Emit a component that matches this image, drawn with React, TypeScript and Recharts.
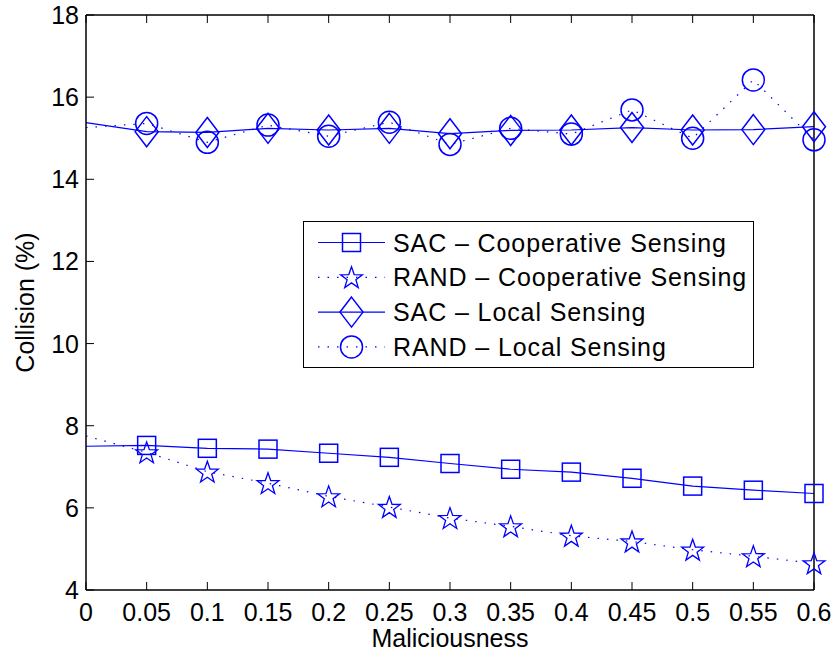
import React from 'react';
import { LineChart, Line, XAxis, YAxis } from 'recharts';

const maliciousness = [0, 0.05, 0.1, 0.15, 0.2, 0.25, 0.3, 0.35, 0.4, 0.45, 0.5, 0.55, 0.6];
const sacCoop = [7.5, 7.52, 7.45, 7.43, 7.33, 7.23, 7.08, 6.94, 6.87, 6.72, 6.53, 6.43, 6.35];
const randCoop = [7.75, 7.35, 6.88, 6.6, 6.28, 6.02, 5.75, 5.55, 5.32, 5.18, 4.98, 4.82, 4.65];
const sacLocal = [15.38, 15.16, 15.14, 15.24, 15.2, 15.24, 15.11, 15.19, 15.2, 15.26, 15.2, 15.21, 15.28];
const randLocal = [15.26, 15.36, 14.9, 15.32, 15.05, 15.39, 14.85, 15.24, 15.1, 15.69, 15.0, 16.42, 14.96];

const xTicks = [0, 0.05, 0.1, 0.15, 0.2, 0.25, 0.3, 0.35, 0.4, 0.45, 0.5, 0.55, 0.6];
const yTicks = [4, 6, 8, 10, 12, 14, 16, 18];

const seriesNames = [
  'SAC \u2013 Cooperative Sensing',
  'RAND \u2013 Cooperative Sensing',
  'SAC \u2013 Local Sensing',
  'RAND \u2013 Local Sensing',
];

const data = maliciousness.map((m, i) => ({
  m,
  sacCoop: sacCoop[i],
  randCoop: randCoop[i],
  sacLocal: sacLocal[i],
  randLocal: randLocal[i],
}));

const BLUE = '#0000ff';
const FONT = '"Liberation Sans", Arial, Helvetica, sans-serif';
const TICK_LEN = 8;

type Shape = 'square' | 'star' | 'diamond' | 'circle';

function Marker({ shape, cx, cy }: { shape: Shape; cx: number; cy: number }) {
  const common = { fill: 'none', stroke: BLUE, strokeWidth: 1.5 };
  if (shape === 'square') {
    return <rect x={cx - 9} y={cy - 9} width={18} height={18} {...common} />;
  }
  if (shape === 'diamond') {
    return <polygon points={`${cx},${cy - 15} ${cx + 11.5},${cy} ${cx},${cy + 15} ${cx - 11.5},${cy}`} {...common} />;
  }
  if (shape === 'circle') {
    return <circle cx={cx} cy={cy} r={11} {...common} />;
  }
  const pts: string[] = [];
  for (let k = 0; k < 10; k++) {
    const r = k % 2 === 0 ? 11.5 : 4.6;
    const a = -Math.PI / 2 + (k * Math.PI) / 5;
    pts.push(`${(cx + r * Math.cos(a)).toFixed(2)},${(cy + r * Math.sin(a) + 1).toFixed(2)}`);
  }
  return <polygon points={pts.join(' ')} {...common} strokeWidth={1.3} />;
}

// first point (x = 0) has no marker in the original figure
const dotFor = (shape: Shape) => (props: any) => {
  const { cx, cy, index } = props;
  if (index === 0 || cx == null || cy == null) return <g key={`d-${shape}-${index}`} />;
  return (
    <g key={`d-${shape}-${index}`}>
      <Marker shape={shape} cx={cx} cy={cy} />
    </g>
  );
};

function BottomTick(props: any) {
  const { x, y, payload } = props;
  return (
    <g>
      <line x1={x} x2={x} y1={y} y2={y - TICK_LEN} stroke="#000" strokeWidth={1} />
      <text x={x} y={y + 31} textAnchor="middle" fontSize={25} fontFamily={FONT} fill="#000">
        {String(payload.value)}
      </text>
    </g>
  );
}

function TopTick(props: any) {
  const { x, y } = props;
  return <line x1={x} x2={x} y1={y} y2={y + TICK_LEN} stroke="#000" strokeWidth={1} />;
}

function LeftTick(props: any) {
  const { x, y, payload } = props;
  return (
    <g>
      <line x1={x} x2={x + TICK_LEN} y1={y} y2={y} stroke="#000" strokeWidth={1} />
      <text x={x - 7} y={y + 9} textAnchor="end" fontSize={25} fontFamily={FONT} fill="#000">
        {String(payload.value)}
      </text>
    </g>
  );
}

function RightTick(props: any) {
  const { x, y } = props;
  return <line x1={x} x2={x - TICK_LEN} y1={y} y2={y} stroke="#000" strokeWidth={1} />;
}

const legendRows: { name: string; shape: Shape; dotted: boolean }[] = [
  { name: seriesNames[0], shape: 'square', dotted: false },
  { name: seriesNames[1], shape: 'star', dotted: true },
  { name: seriesNames[2], shape: 'diamond', dotted: false },
  { name: seriesNames[3], shape: 'circle', dotted: true },
];

function LegendBox() {
  return (
    <div style={{ position: 'absolute', left: 303, top: 221, width: 451, height: 147 }}>
      <svg width={451} height={147}>
        <rect x={0.5} y={0.5} width={450} height={146} fill="#fff" stroke="#000" strokeWidth={1} />
        {legendRows.map((r, i) => {
          const cy = 21.5 + i * 34.8;
          return (
            <g key={r.name}>
              <line
                x1={15}
                x2={82}
                y1={cy}
                y2={cy}
                stroke={BLUE}
                strokeWidth={1.2}
                strokeDasharray={r.dotted ? '1.5 8' : undefined}
              />
              <Marker shape={r.shape} cx={48.5} cy={cy} />
              <text x={90} y={cy + 9} fontSize={25} letterSpacing={0.9} fontFamily={FONT} fill="#000">
                {r.name}
              </text>
            </g>
          );
        })}
      </svg>
    </div>
  );
}

export default function App() {
  return (
    <div style={{ position: 'absolute', left: 0, top: 0, width: 839, height: 660, background: '#fff' }}>
      <LineChart width={839} height={660} data={data} margin={{ top: 14, right: 24, bottom: 69, left: 85 }}>
        <XAxis
          xAxisId="b"
          dataKey="m"
          type="number"
          domain={[0, 0.6]}
          ticks={xTicks}
          interval={0}
          height={1}
          tickSize={0}
          tickMargin={0}
          tickLine={false}
          tick={<BottomTick />}
          axisLine={{ stroke: '#000', strokeWidth: 1.5 }}
          label={{
            content: (p: any) => {
              const vb = p.viewBox || {};
              return (
                <text x={vb.x + vb.width / 2} y={vb.y + 57} textAnchor="middle" fontSize={25} fontFamily={FONT} fill="#000">
                  Maliciousness
                </text>
              );
            },
          }}
        />
        <XAxis
          xAxisId="t"
          orientation="top"
          dataKey="m"
          type="number"
          domain={[0, 0.6]}
          ticks={xTicks}
          interval={0}
          height={1}
          tickSize={0}
          tickMargin={0}
          tickLine={false}
          tick={<TopTick />}
          axisLine={{ stroke: '#000', strokeWidth: 1.5 }}
        />
        <YAxis
          yAxisId="l"
          type="number"
          domain={[4, 18]}
          ticks={yTicks}
          interval={0}
          width={1}
          tickSize={0}
          tickMargin={0}
          tickLine={false}
          tick={<LeftTick />}
          axisLine={{ stroke: '#000', strokeWidth: 1.5 }}
          label={{
            content: (p: any) => {
              const vb = p.viewBox || {};
              const cx = vb.x + vb.width - 61;
              const cy = vb.y + vb.height / 2;
              return (
                <text
                  x={cx}
                  y={cy}
                  transform={`rotate(-90 ${cx} ${cy})`}
                  textAnchor="middle"
                  dominantBaseline="central"
                  fontSize={25}
                  fontFamily={FONT}
                  fill="#000"
                >
                  Collision (%)
                </text>
              );
            },
          }}
        />
        <YAxis
          yAxisId="r"
          orientation="right"
          type="number"
          domain={[4, 18]}
          ticks={yTicks}
          interval={0}
          width={1}
          tickSize={0}
          tickMargin={0}
          tickLine={false}
          tick={<RightTick />}
          axisLine={{ stroke: '#000', strokeWidth: 1.5 }}
        />
        <Line
          xAxisId="b"
          yAxisId="l"
          dataKey="sacCoop"
          name={seriesNames[0]}
          type="linear"
          stroke={BLUE}
          strokeWidth={1.2}
          dot={dotFor('square')}
          isAnimationActive={false}
        />
        <Line
          xAxisId="b"
          yAxisId="l"
          dataKey="randCoop"
          name={seriesNames[1]}
          type="linear"
          stroke={BLUE}
          strokeWidth={1.2}
          strokeDasharray="1.5 8"
          dot={dotFor('star')}
          isAnimationActive={false}
        />
        <Line
          xAxisId="b"
          yAxisId="l"
          dataKey="sacLocal"
          name={seriesNames[2]}
          type="linear"
          stroke={BLUE}
          strokeWidth={1.2}
          dot={dotFor('diamond')}
          isAnimationActive={false}
        />
        <Line
          xAxisId="b"
          yAxisId="l"
          dataKey="randLocal"
          name={seriesNames[3]}
          type="linear"
          stroke={BLUE}
          strokeWidth={1.2}
          strokeDasharray="1.5 8"
          dot={dotFor('circle')}
          isAnimationActive={false}
        />
      </LineChart>
      <LegendBox />
    </div>
  );
}
